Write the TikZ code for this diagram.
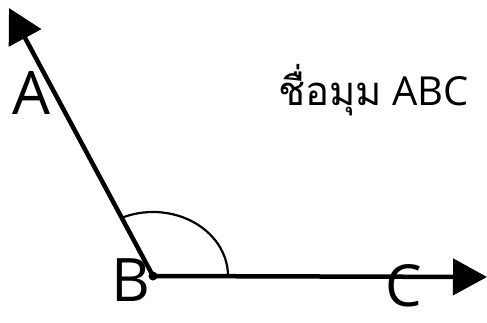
\documentclass[tikz,border=0pt]{standalone}
\usepackage{fontspec}
\setmainfont{Open Sans}
\newfontfamily\thaifont[Script=Thai]{Loma}
\usetikzlibrary{arrows.meta}

\tikzset{
  ray/.style={line width=4.5pt, -{Triangle[length=34pt, width=36pt]}},
  lbl/.style={inner sep=0pt, font=\fontsize{60}{60}\selectfont},
}

\begin{document}
\begin{tikzpicture}[x=1pt, y=-1pt]
  \useasboundingbox (0,0) rectangle (487,323);
  % vertex and ray ends
  \coordinate (vB) at (153,276);
  \coordinate (tA) at (9,8);
  \coordinate (tC) at (487,277);
  % rays
  \draw[ray] (vB) -- (tA);
  \draw[ray] (vB) -- (tC);
  \fill (vB) circle (4.5pt);
  % angle mark
  \draw[line width=2.2pt] (vB) ++(75,0) arc[start angle=0, end angle=-114, x radius=75, y radius=64];
  % labels
  \node[lbl] (A) at (31,93) {A};
  \node[lbl] (B) at (131,280) {B};
  \node[lbl, font=\fontsize{58}{58}\selectfont] (C) at (404,286) {C};
  \node[inner sep=0pt, anchor=west] (title) at (278,90)
    {\fontsize{40}{40}\selectfont{\thaifont ชื่อมุม} ABC};
\end{tikzpicture}
\end{document}
